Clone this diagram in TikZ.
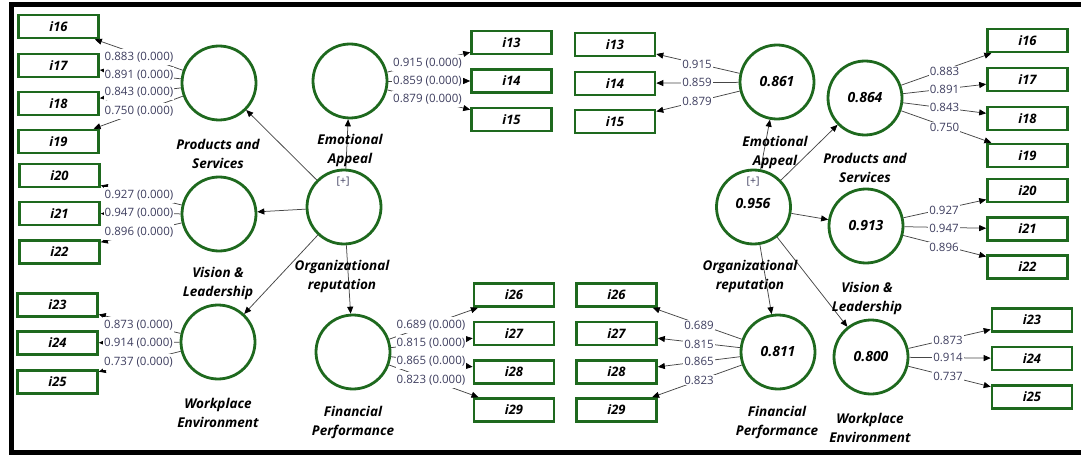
\documentclass[tikz,border=0pt]{standalone}
\usepackage{fontspec}
\setmainfont{Open Sans}
\usetikzlibrary{arrows.meta}
\definecolor{plsgreen}{RGB}{30,105,30}
\definecolor{numcol}{RGB}{62,62,95}
\definecolor{arrcol}{RGB}{70,70,70}
\begin{document}
\begin{tikzpicture}[x=1pt,y=-1pt,
  lat/.style={circle,draw=plsgreen,line width=2.8pt,minimum size=74pt,inner sep=0pt,font=\fontsize{14}{16}\selectfont\bfseries\itshape},
  ind/.style={rectangle,draw=plsgreen,line width=2.6pt,minimum width=80pt,minimum height=23pt,inner sep=0pt,font=\fontsize{13}{15}\selectfont\bfseries\itshape},
  lname/.style={align=center,font=\fontsize{13.5}{19}\selectfont\bfseries\itshape},
  lbl/.style={fill=white,inner xsep=1.2pt,inner ysep=2.6pt,text=numcol,font=\fontsize{11.5}{13}\selectfont},
  plus/.style={text=numcol,font=\fontsize{10.5}{12}\selectfont},
  arr/.style={draw=arrcol,line width=0.75pt,-{Triangle[length=7pt,width=6pt,color=black]}},
  frame/.style={line width=5pt,line join=miter}
]
\useasboundingbox (0,0) rectangle (1081,457);
\draw[frame] (1081,5) -- (11,5) -- (11,452) -- (1081,452);

%% ---------------- left panel ----------------
\node[lat] (lP) at (219,83) {};
\node[lat] (lV) at (219,214) {};
\node[lat] (lW) at (218,342) {};
\node[lat] (lE) at (350,81) {};
\node[lat] (lO) at (344,207) {};
\node[lat] (lF) at (353,352) {};

\node[ind] (L16) at (58.5,26.5) {i16};
\node[ind] (L17) at (58.5,65.5) {i17};
\node[ind] (L18) at (58.5,103.5) {i18};
\node[ind] (L19) at (58.5,141.5) {i19};
\node[ind] (L20) at (59.5,175.5) {i20};
\node[ind] (L21) at (59.5,213.5) {i21};
\node[ind] (L22) at (59.5,252) {i22};
\node[ind] (L23) at (57.5,305) {i23};
\node[ind] (L24) at (57.5,343) {i24};
\node[ind] (L25) at (57.5,382) {i25};
\node[ind] (L13) at (511.5,42.5) {i13};
\node[ind] (L14) at (511.5,81) {i14};
\node[ind] (L15) at (511.5,119.5) {i15};
\node[ind] (L26) at (514,295) {i26};
\node[ind] (L27) at (514,333.5) {i27};
\node[ind] (L28) at (514,372) {i28};
\node[ind] (L29) at (514,410) {i29};

\foreach \a/\b in {lP/L16,lP/L17,lP/L18,lP/L19,lV/L20,lV/L21,lV/L22,lW/L23,lW/L24,lW/L25,lE/L13,lE/L14,lE/L15,lF/L26,lF/L27,lF/L28,lF/L29}
  \draw[arr] (\a) -- (\b);
\foreach \b in {lP,lV,lW,lE,lF}
  \draw[arr] (lO) -- (\b);

\foreach \x/\y/\t in {139/57/0.883,139/75/0.891,139/92/0.843,139/111/0.750,
  139/195/0.927,139/213/0.947,139/232/0.896,
  138.5/325/0.873,138.5/343/0.914,138.5/362/0.737,
  427.5/63/0.915,427.5/81/0.859,427.5/99/0.879,
  431/325/0.689,431/343/0.815,431/361/0.865,431/380/0.823}
  \node[lbl] at (\x,\y) {\t\ (0.000)};

\node[lname] at (218,153.5) {Products and\\Services};
\node[lname] at (218,283) {Vision \&\\Leadership};
\node[lname] at (218,413) {Workplace\\Environment};
\node[lname] at (350,150) {Emotional\\Appeal};
\node[lname] at (342,276.5) {Organizational\\reputation};
\node[lname] at (353,422.5) {Financial\\Performance};
\node[plus] at (343,182) {[+]};

%% ---------------- right panel ----------------
\node[lat] (rE) at (777,82) {0.861};
\node[lat] (rO) at (753.5,207) {};
\node[lat] (rF) at (778,352) {0.811};
\node[lat] (rP) at (865,98) {0.864};
\node[lat] (rV) at (866,226) {0.913};
\node[lat] (rW) at (871,357) {0.800};

\node[ind] (R13) at (615,44.5) {i13};
\node[ind] (R14) at (615,83.5) {i14};
\node[ind] (R15) at (615,121.5) {i15};
\node[ind] (R26) at (616.5,295) {i26};
\node[ind] (R27) at (616.5,333.5) {i27};
\node[ind] (R28) at (616.5,372) {i28};
\node[ind] (R29) at (616.5,410) {i29};
\node[ind] (R16) at (1027.5,40.5) {i16};
\node[ind] (R17) at (1027.5,79.5) {i17};
\node[ind] (R18) at (1027.5,118.5) {i18};
\node[ind] (R19) at (1027.5,155.5) {i19};
\node[ind] (R20) at (1027.5,190.5) {i20};
\node[ind] (R21) at (1027.5,229) {i21};
\node[ind] (R22) at (1027.5,267) {i22};
\node[ind] (R23) at (1032,320) {i23};
\node[ind] (R24) at (1032,358.5) {i24};
\node[ind] (R25) at (1032,397) {i25};

\foreach \a/\b in {rE/R13,rE/R14,rE/R15,rF/R26,rF/R27,rF/R28,rF/R29,rP/R16,rP/R17,rP/R18,rP/R19,rV/R20,rV/R21,rV/R22,rW/R23,rW/R24,rW/R25}
  \draw[arr] (\a) -- (\b);
\foreach \b in {rE,rP,rV,rF,rW}
  \draw[arr] (rO) -- (\b);

\foreach \x/\y/\t in {697/64/0.915,697/82/0.859,697/101/0.879,
  699/325/0.689,699/344/0.815,699/361/0.865,699/380/0.823,
  944.5/71/0.883,944.5/89/0.891,944.5/107/0.843,944.5/127/0.750,
  944/210/0.927,944/228/0.947,944/247/0.896,
  948/340/0.873,948/357/0.914,948/376/0.737}
  \node[lbl,inner ysep=1pt] at (\x,\y) {\t};

\node[lname] at (775,152.5) {Emotional\\Appeal};
\node[lname] at (750,276.5) {Organizational\\reputation};
\node[lname] at (777,422.5) {Financial\\Performance};
\node[lname] at (865,167.5) {Products and\\Services};
\node[lname] at (867,298) {Vision \&\\Leadership};
\node[lname] at (870,427.5) {Workplace\\Environment};
\node[plus] at (753,182) {[+]};
\node[font=\fontsize{14}{16}\selectfont\bfseries\itshape] at (753,204) {0.956};
\end{tikzpicture}
\end{document}
